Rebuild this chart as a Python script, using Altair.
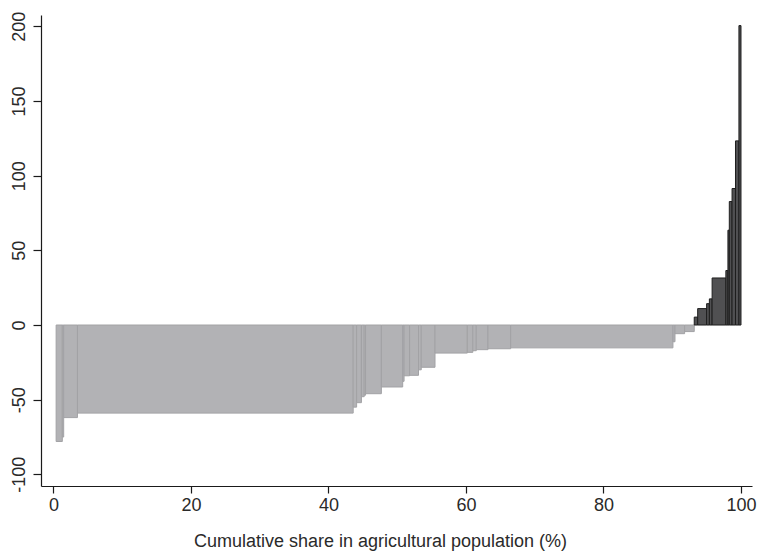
import altair as alt
import pandas as pd

# Bar edges on the cumulative-share axis (%) and bar heights
edges = [0.4, 1.3, 1.5, 3.5, 43.6, 44.1, 44.8, 45.2, 45.4, 47.7, 50.8, 51.0,
         51.8, 53.1, 53.5, 55.5, 60.2, 61.0, 61.5, 63.2, 66.5, 90.1, 90.4,
         91.8, 93.2, 93.7, 95.0, 95.4, 95.8, 97.8, 98.1, 98.3, 98.7, 99.2,
         99.7, 100.0]
values = [-78, -75, -62, -59, -55, -52, -48, -47, -46, -41.5, -37.7, -34,
          -33.7, -30, -28.3, -18.8, -18.3, -17.2, -16.5, -15.9, -15.3, -11.2,
          -5.8, -4.4, 5.3, 11, 14.3, 17.5, 31.5, 36.5, 63.5, 82.7, 91.4,
          123.3, 200.5]

x_ticks = [0, 20, 40, 60, 80, 100]
y_ticks = [-100, -50, 0, 50, 100, 150, 200]

df = pd.DataFrame({"x0": edges[:-1], "x1": edges[1:], "v": values})
df["base"] = 0
df["sign"] = ["gain" if v > 0 else "loss" for v in values]

font = "Liberation Sans"
axis_common = dict(
    grid=False,
    domainColor="#1a1a1a",
    domainWidth=1.2,
    tickColor="#1a1a1a",
    tickWidth=1.2,
    labelFont=font,
    labelFontSize=18,
    labelColor="#2a2a2a",
    labelExpr="'' + datum.value",
)

chart = alt.Chart(df).mark_rect(strokeWidth=1).encode(
    x=alt.X(
        "x0:Q",
        scale=alt.Scale(domain=[-1.8, 101.6], nice=False, zero=False),
        axis=alt.Axis(
            values=x_ticks,
            title="Cumulative share in agricultural population (%)",
            titleFont=font,
            titleFontSize=18,
            titleFontWeight="normal",
            titleColor="#2a2a2a",
            titlePadding=18,
            titleX=339,
            tickSize=7,
            labelPadding=3,
            **axis_common,
        ),
    ),
    x2="x1",
    y=alt.Y(
        "v:Q",
        scale=alt.Scale(domain=[-107.8, 207.6], nice=False, zero=False),
        axis=alt.Axis(
            values=y_ticks,
            title=None,
            tickSize=8,
            labelAngle=270,
            labelAlign="center",
            labelBaseline="bottom",
            labelPadding=5,
            **axis_common,
        ),
    ),
    y2="base",
    color=alt.Color(
        "sign:N",
        scale=alt.Scale(domain=["loss", "gain"], range=["#b2b2b5", "#505052"]),
        legend=None,
    ),
    stroke=alt.Stroke(
        "sign:N",
        scale=alt.Scale(domain=["loss", "gain"], range=["#a2a2a5", "#1e1e1e"]),
        legend=None,
    ),
).properties(
    width=711,
    height=471,
    autosize=alt.AutoSizeParams(type="none"),
    padding={"left": 41, "top": 15, "right": 5, "bottom": 68},
    background="white",
).configure_view(stroke=None)

chart.save("out.html", embed_options={"renderer": "svg", "actions": False})
